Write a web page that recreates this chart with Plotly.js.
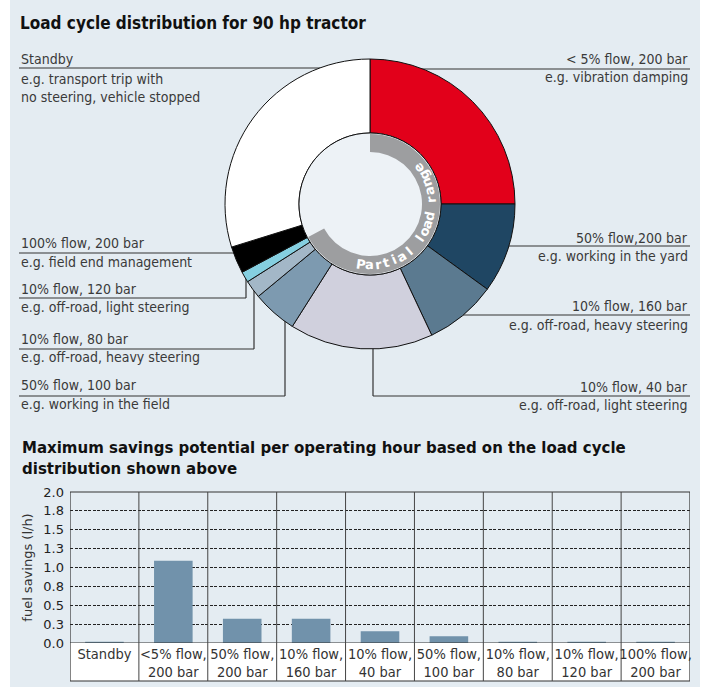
<!DOCTYPE html>
<html><head><meta charset="utf-8">
<script src="https://cdn.plot.ly/plotly-3.0.1.min.js"></script>
<style>html,body{margin:0;padding:0;background:#fff}#chart{width:705px;height:687px}</style>
</head><body><div id="chart"></div>
<script>
// ---------- DATA ----------
// Donut: load cycle shares (%), clockwise from 12 o'clock
const pieLabels = ['< 5% flow, 200 bar','50% flow, 200 bar','10% flow, 160 bar','10% flow, 40 bar','50% flow, 100 bar','10% flow, 80 bar','10% flow, 120 bar','100% flow, 200 bar','Standby'];
const pieShares = [25, 10, 8, 16, 5, 2, 1.2, 3, 29.8];
const pieColors = ['#e2001a','#1f4663','#5b7a90','#d0d0dd','#7d9ab0','#a3b7c7','#85cfe0','#000000','#ffffff'];
const partialLoad = [true, true, true, true, true, true, true, false, false];

// Callout texts
const calloutTitles = ['Standby','100% flow, 200 bar','10% flow, 120 bar','10% flow, 80 bar','50% flow, 100 bar','< 5% flow, 200 bar','50% flow,200 bar','10% flow, 160 bar','10% flow, 40 bar'];
const calloutNotes = ['e.g. transport trip with<br>no steering, vehicle stopped','e.g. field end management','e.g. off-road, light steering','e.g. off-road, heavy steering','e.g. working in the field','e.g. vibration damping','e.g. working in the yard','e.g. off-road, heavy steering','e.g. off-road, light steering'];

// Bars: fuel savings (l/h)
const barCategories = ['Standby','<5% flow,<br>200 bar','50% flow,<br>200 bar','10% flow,<br>160 bar','10% flow,<br>40 bar','50% flow,<br>100 bar','10% flow,<br>80 bar','10% flow,<br>120 bar','100% flow,<br>200 bar'];
const barSavings = [0.015, 1.09, 0.32, 0.32, 0.155, 0.09, 0.015, 0.015, 0.015];
const yTickVals = [0, 0.25, 0.5, 0.75, 1, 1.25, 1.5, 1.75, 2];
const yTickText = ['0.0','0.3','0.5','0.8','1.0','1.3','1.5','1.8','2.0'];

// ---------- LAYOUT HELPERS ----------
const W = 705, H = 687;
const px = x => x / W;
const py = y => 1 - y / H;
const NARROW = 'Liberation Sans Narrow, DejaVu Sans Condensed, Roboto, sans-serif';
const TXT = '#3a3a3a';

// donut geometry (pixels)
const cx = 370, cy = 204, R = 145, rHole = 71, rRingOut = 70, rRingIn = 52;
const dom = r => ({x: [px(cx - r), px(cx + r)], y: [py(cy + r), py(cy - r)]});

const partialSum = pieShares.reduce((s, v, i) => s + (partialLoad[i] ? v : 0), 0);
const otherSum = pieShares.reduce((s, v, i) => s + (partialLoad[i] ? 0 : v), 0);

const traces = [
  {type: 'pie', values: pieShares, labels: pieLabels, sort: false, direction: 'clockwise', rotation: 0,
   hole: rHole / R, textinfo: 'none', hoverinfo: 'label+value', showlegend: false,
   marker: {colors: pieColors, line: {color: '#111', width: 1}}, domain: dom(R)},
  {type: 'pie', values: [1], labels: ['hole'], sort: false, textinfo: 'none', hoverinfo: 'skip', showlegend: false,
   marker: {colors: ['#edf2f6'], line: {color: '#111', width: 1}}, domain: dom(rHole)},
  {type: 'pie', values: [partialSum, otherSum], labels: ['Partial load range', 'other'], sort: false,
   direction: 'clockwise', rotation: 0, hole: rRingIn / rRingOut, textinfo: 'none', hoverinfo: 'skip', showlegend: false,
   marker: {colors: ['#9d9ea0', 'rgba(0,0,0,0)'], line: {width: 0}}, domain: dom(rRingOut)},
  {type: 'bar', x: barCategories, y: barSavings, width: 0.56, marker: {color: '#7192ab'},
   xaxis: 'x', yaxis: 'y', showlegend: false, hoverinfo: 'x+y'}
];

const shapes = [];
const annotations = [];
// light panel
shapes.push({type: 'rect', xref: 'paper', yref: 'paper', x0: px(10), x1: px(700), y0: 0, y1: 1,
  fillcolor: '#e4ecf2', line: {width: 0}, layer: 'below'});

// callouts: [side, lineY, titleY, noteY, verticalX]
const calloutPos = [
  ['l', 68, 59, 69, null],
  ['l', 253, 243, 262, null],
  ['l', 298, 289, 307, 246],
  ['l', 349, 339, 357, 254],
  ['l', 396, 385, 404, 285],
  ['r', 69, 59, 77, null],
  ['r', 246, 238, 256, null],
  ['r', 315, 306, 325, null],
  ['r', 396, 387, 405, 373]
];
const lineStyle = {color: '#333', width: 1.2};
calloutPos.forEach((c, i) => {
  const [side, ly, ty, ny, vx] = c;
  const outer = side === 'l' ? 19 : 690;
  const inner = vx !== null ? vx : cx;
  shapes.push({type: 'line', xref: 'paper', yref: 'paper', x0: px(outer), x1: px(inner), y0: py(ly), y1: py(ly), line: lineStyle, layer: 'below'});
  if (vx !== null) shapes.push({type: 'line', xref: 'paper', yref: 'paper', x0: px(vx), x1: px(vx), y0: py(ly), y1: py(cy), line: lineStyle, layer: 'below'});
  const anchor = side === 'l' ? 'left' : 'right';
  annotations.push({xref: 'paper', yref: 'paper', x: px(outer), y: py(ty), xanchor: anchor, yanchor: 'middle', showarrow: false,
    text: calloutTitles[i], font: {family: NARROW, size: 14, color: TXT}, align: anchor});
  annotations.push({xref: 'paper', yref: 'paper', x: px(outer), y: py(ny), xanchor: anchor, yanchor: i === 0 ? 'top' : 'middle', showarrow: false,
    text: calloutNotes[i], font: {family: NARROW, size: 14, color: TXT}, align: anchor});
});

// curved "Partial load range" text along ring
const ringText = 'Partial load range';
const ringMid = (partialSum / (partialSum + otherSum)) * 360 / 2;
const step = 7.9;
const rText = (rRingIn + rRingOut) / 2;
for (let k = 0; k < ringText.length; k++) {
  const ch = ringText[k];
  if (ch === ' ') continue;
  const th = ringMid + ((ringText.length - 1) / 2 - k) * step;
  const t = th * Math.PI / 180;
  annotations.push({xref: 'paper', yref: 'paper', x: px(cx + rText * Math.sin(t)), y: py(cy - rText * Math.cos(t)),
    xanchor: 'center', yanchor: 'middle', showarrow: false, text: ch, textangle: th - 180,
    font: {family: 'DejaVu Sans', size: 13, color: '#ffffff', weight: 'bold'}});
}

// bar chart frame
const n = barCategories.length;
const yPlotTop = 492, yPlotBot = 643, yBoxBot = 681;
shapes.push({type: 'rect', xref: 'x', yref: 'paper', x0: -0.5, x1: n - 0.5, y0: py(yBoxBot), y1: py(yPlotBot),
  fillcolor: '#ffffff', line: {width: 0}, layer: 'below'});
shapes.push({type: 'rect', xref: 'x', yref: 'paper', x0: -0.5, x1: n - 0.5, y0: py(yBoxBot), y1: py(yPlotTop),
  fillcolor: 'rgba(0,0,0,0)', line: {color: '#333', width: 1.2}, layer: 'above'});
shapes.push({type: 'line', xref: 'x', yref: 'y', x0: -0.5, x1: n - 0.5, y0: 0, y1: 0, line: {color: '#333', width: 1.2}, layer: 'above'});
for (let i = 0; i < n - 1; i++) {
  shapes.push({type: 'line', xref: 'x', yref: 'paper', x0: i + 0.5, x1: i + 0.5, y0: py(yBoxBot), y1: py(yPlotTop),
    line: {color: '#444', width: 1}, layer: 'above'});
}

// titles
annotations.push({xref: 'paper', yref: 'paper', x: px(20), y: py(448), xanchor: 'left', yanchor: 'middle', showarrow: false, align: 'left',
  text: 'Maximum savings potential per operating hour based on the load cycle', font: {family: 'DejaVu Sans', size: 15, color: '#111', weight: 'bold'}});
annotations.push({xref: 'paper', yref: 'paper', x: px(20), y: py(469), xanchor: 'left', yanchor: 'middle', showarrow: false, align: 'left',
  text: 'distribution shown above', font: {family: 'DejaVu Sans', size: 15, color: '#111', weight: 'bold'}});

const layout = {
  width: W, height: H,
  margin: {l: 0, r: 0, t: 0, b: 0},
  paper_bgcolor: '#ffffff', plot_bgcolor: '#ffffff',
  showlegend: false,
  title: {text: 'Load cycle distribution for 90 hp tractor', x: px(20), xanchor: 'left', xref: 'paper',
    y: py(23), yanchor: 'middle', yref: 'paper',
    font: {family: 'DejaVu Sans Condensed, DejaVu Sans', size: 17, color: '#111', weight: 'bold'}},
  xaxis: {domain: [px(70), px(690)], range: [-0.5, n - 0.5], showgrid: false, zeroline: false, showline: false,
    ticks: '', tickfont: {family: NARROW, size: 14.5, color: '#333'}, fixedrange: true, automargin: false, tickangle: 0},
  yaxis: {domain: [py(yPlotBot), py(yPlotTop)], range: [0, 2], tickvals: yTickVals, ticktext: yTickText,
    showgrid: true, gridcolor: '#222', griddash: '3px,1.5px', gridwidth: 1, zeroline: false, showline: false,
    ticks: '', ticklabelstandoff: 5, tickfont: {family: 'DejaVu Sans', size: 13, color: '#222'}, fixedrange: true, automargin: false,
    title: {text: 'fuel savings (l/h)', font: {family: 'DejaVu Sans', size: 13, color: '#333'}, standoff: 7}},
  shapes: shapes,
  annotations: annotations
};

Plotly.newPlot('chart', traces, layout, {displayModeBar: false, staticPlot: true});
</script>
</body></html>
